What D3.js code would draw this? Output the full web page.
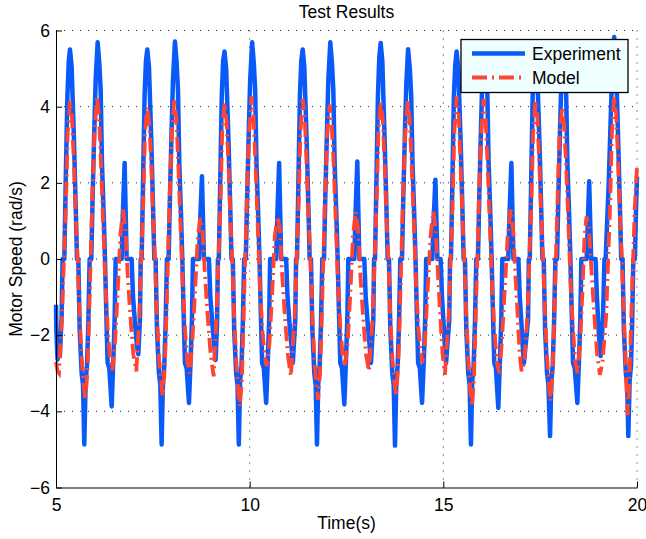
<!DOCTYPE html>
<html>
<head>
<meta charset="utf-8">
<script src="https://cdn.jsdelivr.net/npm/d3@7"></script>
<style>
  body { margin: 0; background: #fff; }
  text { font-family: "Liberation Sans", Arial, Helvetica, sans-serif; }
</style>
</head>
<body>
<svg width="646" height="539"></svg>
<script>
// time (s), motor speed (rad/s)
var experimentData = [
  [5.000,-1.2],[5.010,-1.9],[5.040,-2.64],[5.070,-2.1],[5.100,-2.55],[5.145,-1.5],[5.170,0],[5.215,0],[5.250,2.0],[5.295,4.3],[5.330,5.2],
  [5.361,5.5],[5.404,5.05],[5.464,3.13],[5.507,1.47],[5.542,0],[5.576,0],[5.611,-1.85],[5.662,-3.0],[5.697,-3.3],[5.731,-4.87],[5.765,-3.2],[5.800,-2.8],[5.834,-1.7],[5.869,0],[5.912,0],[5.946,1.64],[5.989,3.39],[6.024,4.7],[6.075,5.69],[6.118,5.14],[6.153,4.44],[6.187,2.52],[6.230,1.21],[6.265,0],[6.299,-1.42],[6.333,-2.73],[6.376,-2.86],[6.437,-3.87],[6.480,-2.64],[6.514,-1.59],[6.540,0],[6.695,0],[6.729,1.26],[6.772,2.52],[6.798,1.26],[6.824,0],[6.953,0],[6.988,-0.98],[7.039,-1.68],[7.091,-2.29],[7.125,-2.5],[7.167,-1.6],[7.187,0],[7.211,0],[7.247,2.0],[7.287,4.3],[7.322,5.2],
  [7.357,5.5],[7.400,5.05],[7.460,3.13],[7.503,1.47],[7.538,0],[7.572,0],[7.607,-1.85],[7.658,-3.0],[7.693,-3.3],[7.727,-4.87],[7.761,-3.2],[7.796,-2.8],[7.830,-1.7],[7.865,0],[7.908,0],[7.942,1.64],[7.985,3.39],[8.020,4.7],[8.071,5.71],[8.114,5.16],[8.149,4.44],[8.183,2.52],[8.226,1.21],[8.261,0],[8.295,-1.42],[8.329,-2.73],[8.372,-2.86],[8.433,-3.78],[8.476,-2.64],[8.510,-1.59],[8.536,0],[8.691,0],[8.725,1.08],[8.768,2.17],[8.794,1.08],[8.820,0],[8.949,0],[8.984,-0.98],[9.035,-1.68],[9.087,-2.29],[9.121,-2.65],[9.160,-1.6],[9.180,0],[9.204,0],[9.240,2.0],[9.280,4.3],[9.315,5.2],
  [9.350,5.45],[9.393,5.0],[9.453,3.13],[9.496,1.47],[9.531,0],[9.565,0],[9.600,-1.85],[9.651,-3.0],[9.686,-3.3],[9.720,-4.87],[9.754,-3.2],[9.789,-2.8],[9.823,-1.7],[9.858,0],[9.901,0],[9.935,1.64],[9.978,3.39],[10.013,4.7],[10.064,5.69],[10.107,5.14],[10.142,4.44],[10.176,2.52],[10.219,1.21],[10.254,0],[10.288,-1.42],[10.322,-2.73],[10.365,-2.86],[10.426,-3.78],[10.469,-2.64],[10.503,-1.59],[10.529,0],[10.684,0],[10.718,1.26],[10.761,2.52],[10.787,1.26],[10.813,0],[10.942,0],[10.977,-0.98],[11.028,-1.68],[11.080,-2.29],[11.114,-2.73],[11.178,-1.6],[11.198,0],[11.222,0],[11.258,2.0],[11.298,4.3],[11.333,5.2],
  [11.368,5.5],[11.411,5.05],[11.471,3.13],[11.514,1.47],[11.549,0],[11.583,0],[11.618,-1.85],[11.669,-3.0],[11.704,-3.3],[11.738,-4.87],[11.772,-3.2],[11.807,-2.8],[11.841,-1.7],[11.876,0],[11.919,0],[11.953,1.64],[11.996,3.39],[12.031,4.7],[12.082,5.69],[12.125,5.14],[12.160,4.44],[12.194,2.52],[12.237,1.21],[12.272,0],[12.306,-1.42],[12.340,-2.73],[12.383,-2.86],[12.444,-3.82],[12.487,-2.64],[12.521,-1.59],[12.547,0],[12.702,0],[12.736,1.28],[12.779,2.56],[12.805,1.28],[12.831,0],[12.960,0],[12.995,-0.98],[13.046,-1.68],[13.098,-2.29],[13.132,-2.73],[13.192,-1.6],[13.212,0],[13.236,0],[13.272,2.0],[13.312,4.3],[13.347,5.3],
  [13.382,5.67],[13.425,5.2],[13.485,3.13],[13.528,1.47],[13.563,0],[13.597,0],[13.632,-1.85],[13.683,-3.0],[13.718,-3.3],[13.752,-4.9],[13.786,-3.2],[13.821,-2.8],[13.855,-1.7],[13.890,0],[13.933,0],[13.967,1.64],[14.010,3.39],[14.045,4.6],[14.090,5.51],[14.135,5.0],[14.170,4.3],[14.204,2.52],[14.247,1.21],[14.282,0],[14.316,-1.42],[14.350,-2.73],[14.393,-2.86],[14.450,-3.78],[14.497,-2.64],[14.531,-1.59],[14.557,0],[14.716,0],[14.750,1.04],[14.795,2.08],[14.821,1.04],[14.847,0],[14.930,0],[14.965,-0.98],[15.005,-1.68],[15.040,-2.29],[15.070,-2.73],[15.153,-1.6],[15.173,0],[15.197,0],[15.233,2.0],[15.273,4.3],[15.308,5.1],
  [15.343,5.45],[15.386,5.0],[15.446,3.13],[15.489,1.47],[15.524,0],[15.558,0],[15.593,-1.85],[15.644,-3.0],[15.679,-3.3],[15.713,-4.87],[15.747,-3.2],[15.782,-2.8],[15.816,-1.7],[15.851,0],[15.894,0],[15.928,1.64],[15.971,3.39],[16.006,4.7],[16.057,5.6],[16.100,5.05],[16.135,4.44],[16.169,2.52],[16.212,1.21],[16.247,0],[16.281,-1.42],[16.315,-2.73],[16.358,-2.86],[16.419,-3.91],[16.462,-2.64],[16.496,-1.59],[16.522,0],[16.677,0],[16.711,1.26],[16.757,2.52],[16.783,1.26],[16.809,0],[16.938,0],[16.973,-0.98],[17.015,-1.68],[17.050,-2.29],[17.080,-2.73],[17.187,-1.6],[17.207,0],[17.231,0],[17.267,2.0],[17.307,4.3],[17.342,5.2],
  [17.377,5.5],[17.420,5.05],[17.480,3.13],[17.523,1.47],[17.558,0],[17.592,0],[17.627,-1.85],[17.678,-3.0],[17.713,-3.3],[17.755,-4.65],[17.789,-3.2],[17.824,-2.8],[17.858,-1.7],[17.893,0],[17.936,0],[17.970,1.64],[18.013,3.39],[18.048,4.7],[18.091,5.5],[18.134,4.95],[18.169,4.44],[18.203,2.52],[18.246,1.21],[18.281,0],[18.315,-1.42],[18.349,-2.73],[18.392,-2.86],[18.460,-3.78],[18.503,-2.64],[18.537,-1.59],[18.563,0],[18.700,0],[18.732,1.02],[18.765,2.04],[18.791,1.02],[18.817,0],[18.930,0],[18.965,-0.98],[19.000,-1.68],[19.035,-2.29],[19.060,-2.55],[19.120,-1.6],[19.160,0],[19.190,0],[19.270,2.0],[19.340,4.3],[19.380,5.4],
  [19.411,5.83],[19.454,5.3],[19.514,3.13],[19.557,1.47],[19.592,0],[19.626,0],[19.661,-1.85],[19.712,-3.0],[19.747,-3.3],[19.776,-4.65],[19.810,-3.2],[19.845,-2.8],[19.875,-1.7],[19.905,0],[19.945,0],[19.975,1.3],[20.000,2.17]
];

var modelData = [
  [5.000,-2.7],[5.040,-2.95],[5.077,-3.0],[5.155,-1.5],[5.206,0],[5.258,1.5],[5.301,3.3],
  [5.361,4.15],[5.413,3.7],[5.464,2.5],[5.516,1.0],[5.559,0],[5.611,-1.5],[5.662,-2.6],[5.714,-3.3],[5.757,-3.7],[5.809,-3.0],[5.852,-1.6],[5.895,0],[5.938,1.6],[5.989,3.2],[6.058,4.27],[6.110,3.77],[6.161,2.5],[6.222,0.8],[6.273,-0.6],[6.333,-1.8],[6.394,-2.62],[6.454,-2.92],[6.523,-2.2],[6.592,-0.9],[6.660,0.6],[6.729,1.3],[6.790,0.8],[6.850,-0.4],[6.919,-1.5],[6.996,-2.5],[7.074,-2.95],[7.150,-1.5],[7.202,0],[7.254,1.5],[7.297,3.3],
  [7.357,4.0],[7.409,3.55],[7.460,2.5],[7.512,1.0],[7.555,0],[7.607,-1.5],[7.658,-2.6],[7.710,-3.2],[7.753,-3.6],[7.805,-2.9],[7.848,-1.6],[7.891,0],[7.934,1.6],[7.985,3.2],[8.054,4.2],[8.106,3.7],[8.157,2.5],[8.218,0.8],[8.269,-0.6],[8.329,-1.8],[8.390,-2.7],[8.450,-3.0],[8.519,-2.2],[8.588,-0.9],[8.656,0.5],[8.725,1.08],[8.786,0.7],[8.846,-0.4],[8.915,-1.5],[8.992,-2.5],[9.070,-3.08],[9.143,-1.5],[9.195,0],[9.247,1.5],[9.290,3.3],
  [9.350,4.1],[9.402,3.65],[9.453,2.5],[9.505,1.0],[9.548,0],[9.600,-1.5],[9.651,-2.6],[9.703,-3.47],[9.746,-3.87],[9.798,-3.17],[9.841,-1.6],[9.884,0],[9.927,1.6],[9.978,3.2],[10.047,4.27],[10.099,3.77],[10.150,2.5],[10.211,0.8],[10.262,-0.6],[10.322,-1.8],[10.383,-2.52],[10.443,-2.82],[10.512,-2.2],[10.581,-0.9],[10.649,0.6],[10.718,1.12],[10.779,0.8],[10.839,-0.4],[10.908,-1.5],[10.985,-2.5],[11.063,-3.08],[11.161,-1.5],[11.213,0],[11.265,1.5],[11.308,3.3],
  [11.368,4.2],[11.420,3.75],[11.471,2.5],[11.523,1.0],[11.566,0],[11.618,-1.5],[11.669,-2.6],[11.721,-3.3],[11.764,-3.7],[11.816,-3.0],[11.859,-1.6],[11.902,0],[11.945,1.6],[11.996,3.2],[12.065,4.05],[12.117,3.55],[12.168,2.5],[12.229,0.8],[12.280,-0.6],[12.340,-1.8],[12.401,-2.52],[12.461,-2.82],[12.530,-2.2],[12.599,-0.9],[12.667,0.6],[12.736,1.25],[12.797,0.8],[12.857,-0.4],[12.926,-1.5],[13.003,-2.5],[13.081,-2.95],[13.175,-1.5],[13.227,0],[13.279,1.5],[13.322,3.3],
  [13.382,4.14],[13.434,3.7],[13.485,2.5],[13.537,1.0],[13.580,0],[13.632,-1.5],[13.683,-2.6],[13.735,-3.2],[13.778,-3.6],[13.830,-2.9],[13.873,-1.6],[13.916,0],[13.959,1.6],[14.010,3.2],[14.079,4.18],[14.131,3.68],[14.182,2.5],[14.243,0.8],[14.294,-0.6],[14.354,-1.8],[14.415,-2.43],[14.460,-2.73],[14.525,-2.2],[14.590,-0.9],[14.670,0.6],[14.741,1.25],[14.800,0.8],[14.860,-0.4],[14.920,-1.5],[14.980,-2.5],[15.040,-3.04],[15.136,-1.5],[15.188,0],[15.240,1.5],[15.283,3.3],
  [15.343,4.27],[15.395,3.8],[15.446,2.5],[15.498,1.0],[15.541,0],[15.593,-1.5],[15.644,-2.6],[15.696,-3.47],[15.739,-3.87],[15.791,-3.17],[15.834,-1.6],[15.877,0],[15.920,1.6],[15.971,3.2],[16.040,4.2],[16.092,3.7],[16.143,2.5],[16.204,0.8],[16.255,-0.6],[16.315,-1.8],[16.380,-2.7],[16.445,-3.0],[16.510,-2.2],[16.580,-0.9],[16.660,0.6],[16.737,1.3],[16.800,0.8],[16.860,-0.4],[16.920,-1.5],[16.970,-2.5],[17.021,-2.95],[17.090,-2.7],[17.170,-1.5],[17.222,0],[17.274,1.5],[17.317,3.3],
  [17.377,4.15],[17.429,3.7],[17.480,2.5],[17.532,1.0],[17.575,0],[17.627,-1.5],[17.678,-2.6],[17.730,-3.33],[17.765,-3.73],[17.820,-3.03],[17.863,-1.6],[17.906,0],[17.949,1.6],[18.000,3.2],[18.069,4.0],[18.121,3.5],[18.172,2.4],[18.233,0.8],[18.284,-0.6],[18.344,-1.8],[18.405,-2.7],[18.466,-3.0],[18.530,-2.2],[18.590,-0.9],[18.645,0.6],[18.698,1.12],[18.760,0.8],[18.830,-0.4],[18.900,-1.5],[18.970,-2.5],[19.043,-3.04],[19.110,-2.7],[19.204,-1.5],[19.256,0],[19.308,1.5],[19.351,3.3],
  [19.411,4.27],[19.463,3.8],[19.514,2.5],[19.566,1.0],[19.609,0],[19.661,-1.5],[19.700,-2.6],[19.735,-3.6],[19.760,-4.1],[19.800,-3.3],[19.850,-1.6],[19.900,0],[19.945,1.4],[20.000,2.4]
];

var xTicks = [5, 10, 15, 20];
var yTicks = [-6, -4, -2, 0, 2, 4, 6];
var seriesNames = ["Experiment", "Model"];

var svg = d3.select("svg"),
    width = +svg.attr("width"),
    height = +svg.attr("height");

// plot box in pixels (note: "top" is a reserved window global, so use plot*)
var plotLeft = 56, plotRight = 637, plotTop = 30.5, plotBottom = 487.5;
var fontSize = "17.5px";
var modelDash = "15,5,2,5";

var x = d3.scaleLinear().domain([5, 20]).range([plotLeft, plotRight]);
var y = d3.scaleLinear().domain([-6, 6]).range([plotBottom, plotTop]);

// dotted grid (box off, so top/right edges are grid only)
var grid = svg.append("g")
    .attr("stroke", "#222")
    .attr("stroke-width", 1)
    .attr("stroke-dasharray", "1,7");
grid.selectAll("line.gx")
  .data(xTicks.slice(1))
  .enter().append("line")
    .attr("x1", function(d){ return x(d) }).attr("x2", function(d){ return x(d) })
    .attr("y1", plotBottom).attr("y2", plotTop);
grid.selectAll("line.gy")
  .data(yTicks.slice(1))
  .enter().append("line")
    .attr("y1", function(d){ return y(d) }).attr("y2", function(d){ return y(d) })
    .attr("x1", plotLeft).attr("x2", plotRight);

var line = d3.line()
    .x(function(d){ return x(d[0]) })
    .y(function(d){ return y(d[1]) });

svg.append("path")
    .datum(experimentData)
    .attr("fill", "none")
    .attr("stroke", "#0a5af7")
    .attr("stroke-width", 4.5)
    .attr("stroke-linejoin", "round")
    .attr("d", line);

svg.append("path")
    .datum(modelData)
    .attr("fill", "none")
    .attr("stroke", "#ff4433")
    .attr("stroke-width", 3.8)
    .attr("stroke-dasharray", modelDash)
    .attr("d", line);

// axes, ticks pointing inward
var xAxis = svg.append("g")
    .attr("transform", "translate(0," + plotBottom + ")")
    .call(d3.axisBottom(x).tickValues(xTicks).tickSizeInner(-6).tickSizeOuter(0).tickPadding(11));
var yAxis = svg.append("g")
    .attr("transform", "translate(" + plotLeft + ",0)")
    .call(d3.axisLeft(y).tickValues(yTicks).tickSizeInner(-6).tickSizeOuter(0).tickPadding(6));

[xAxis, yAxis].forEach(function(a) {
  a.selectAll("text").style("font-size", fontSize).attr("fill", "#000");
  a.selectAll("line, path").attr("stroke", "#000");
  a.attr("font-family", null);
});

svg.append("text")
    .attr("x", (plotLeft + plotRight) / 2).attr("y", 18)
    .attr("text-anchor", "middle")
    .style("font-size", fontSize)
    .text("Test Results");

svg.append("text")
    .attr("x", (plotLeft + plotRight) / 2).attr("y", 529)
    .attr("text-anchor", "middle")
    .style("font-size", fontSize)
    .text("Time(s)");

svg.append("text")
    .attr("transform", "translate(22," + y(0) + ") rotate(-90)")
    .attr("text-anchor", "middle")
    .style("font-size", fontSize)
    .text("Motor Speed (rad/s)");

// legend
var legend = svg.append("g");
legend.append("rect")
    .attr("x", 461).attr("y", 39.5)
    .attr("width", 167).attr("height", 53)
    .attr("fill", "#effefe")
    .attr("stroke", "#000")
    .attr("stroke-width", 1.3);

var legendStyles = [
  { color: "#0a5af7", width: 4.5, dash: null, cy: 53.5 },
  { color: "#ff4433", width: 3.8, dash: modelDash, cy: 77.5 }
];
legend.selectAll("line.key")
  .data(seriesNames)
  .enter().append("line")
    .attr("x1", 472).attr("x2", 525)
    .attr("y1", function(d, i){ return legendStyles[i].cy })
    .attr("y2", function(d, i){ return legendStyles[i].cy })
    .attr("stroke", function(d, i){ return legendStyles[i].color })
    .attr("stroke-width", function(d, i){ return legendStyles[i].width })
    .attr("stroke-dasharray", function(d, i){ return legendStyles[i].dash });
legend.selectAll("text.key")
  .data(seriesNames)
  .enter().append("text")
    .attr("x", 532)
    .attr("y", function(d, i){ return legendStyles[i].cy + 6 })
    .style("font-size", fontSize)
    .text(function(d){ return d });
</script>
</body>
</html>
